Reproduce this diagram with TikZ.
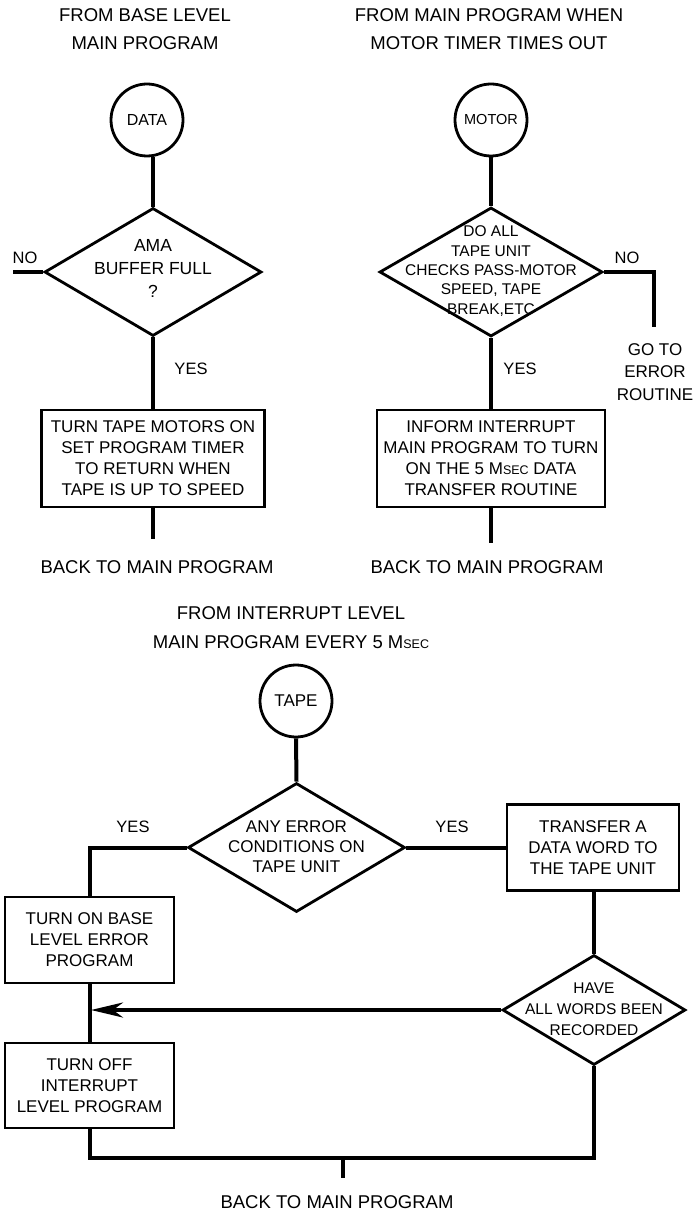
\documentclass[tikz,border=0pt]{standalone}
\usepackage{fontspec}
\setmainfont{Liberation Sans}
\usetikzlibrary{shapes.geometric,arrows.meta}
\newcommand\fHead{\fontsize{18.5}{28.5}\selectfont}
\newcommand\fLab{\fontsize{16.5}{18}\selectfont}
\newcommand\fBox{\fontsize{17}{21}\selectfont}
\newcommand\smallsec{{\fontsize{12.5}{12.5}\selectfont SEC}}
\begin{document}
\begin{tikzpicture}[x=1pt,y=-1pt,
  conn/.style={line width=4pt},
  shp/.style={draw, line width=2.8pt},
  circ/.style={shp, circle, minimum size=72pt, inner sep=0pt},
  dia/.style={shp, diamond, inner sep=0pt},
  box/.style={shp, rectangle, align=center, inner sep=2pt, font=\fBox},
  lbl/.style={inner sep=0pt, align=center},
  arr/.style={conn, -{Stealth[length=32pt,width=15pt,inset=10pt]}}
]
\fill[white] (0,0) rectangle (699,1214);
\useasboundingbox (0,0) rectangle (699,1214);

% ---------- Panel 1 ----------
\node[lbl, font=\fHead] (h1) at (145,29) {FROM BASE LEVEL\\MAIN PROGRAM};
\node[circ, font=\fontsize{16}{16}\selectfont] (data) at (147,120) {DATA};
\node[dia, minimum width=217pt, minimum height=128pt] (d1) at (153,272) {};
\node[lbl, font=\fontsize{17.5}{23}\selectfont] (d1t) at (153,268) {AMA\\BUFFER FULL\\?};
\coordinate (no1) at (13,272);
\node[lbl, font=\fLab] (nol1) at (25,258) {NO};
\node[lbl, font=\fLab] (y1) at (191,369) {YES};
\node[box, minimum width=223pt, minimum height=97pt] (b1) at (153,458.5)
  {TURN TAPE MOTORS ON\\SET PROGRAM TIMER\\TO RETURN WHEN\\TAPE IS UP TO SPEED};
\coordinate (e1) at (153,539);
\node[lbl, font=\fHead] (back1) at (157,567) {BACK TO MAIN PROGRAM};

\draw[conn] (data.south -| d1.north) -- (d1.north);
\draw[conn] (d1.west) -- (no1);
\draw[conn] (d1.south) -- (b1.north);
\draw[conn] (b1.south) -- (e1);

% ---------- Panel 2 ----------
\node[lbl, font=\fHead] (h2) at (489,29) {FROM MAIN PROGRAM WHEN\\MOTOR TIMER TIMES OUT};
\node[circ, font=\fontsize{14.5}{14.5}\selectfont] (motor) at (491,120) {MOTOR};
\node[dia, minimum width=223pt, minimum height=129pt] (d2) at (491,272) {};
\node[lbl, font=\fontsize{15.5}{19.3}\selectfont] (d2t) at (491,271)
  {DO ALL\\TAPE UNIT\\CHECKS PASS-MOTOR\\SPEED, TAPE\\BREAK,ETC};
\coordinate (no2a) at (654,272);
\coordinate (no2b) at (654,327);
\node[lbl, font=\fLab] (nol2) at (627,258) {NO};
\node[lbl, font=\fontsize{17}{22.5}\selectfont] (err) at (655,372) {GO TO\\ERROR\\ROUTINE};
\node[lbl, font=\fLab] (y2) at (520,369) {YES};
\node[box, minimum width=228pt, minimum height=97pt] (b2) at (491,458.5)
  {INFORM INTERRUPT\\MAIN PROGRAM TO TURN\\ON THE 5 M\smallsec{} DATA\\TRANSFER ROUTINE};
\coordinate (e2) at (491,543);
\node[lbl, font=\fHead] (back2) at (487,567) {BACK TO MAIN PROGRAM};

\draw[conn] (motor.south) -- (d2.north);
\draw[conn] (d2.east) -- (no2a) -- (no2b);
\draw[conn] (d2.south) -- (b2.north);
\draw[conn] (b2.south) -- (e2);

% ---------- Panel 3 ----------
\node[lbl, font=\fHead] (h3) at (291,627.5) {FROM INTERRUPT LEVEL\\MAIN PROGRAM EVERY 5 M\smallsec};
\node[circ, font=\fontsize{17}{17}\selectfont] (tape) at (296,701) {TAPE};
\node[dia, minimum width=217pt, minimum height=129pt] (d3) at (296.5,847.5) {};
\node[lbl, font=\fontsize{17}{20}\selectfont] (d3t) at (296.5,847) {ANY ERROR\\CONDITIONS ON\\TAPE UNIT};
\node[lbl, font=\fLab] (y3l) at (133,827) {YES};
\node[lbl, font=\fLab] (y3r) at (452,827) {YES};
\node[box, minimum width=172pt, minimum height=86pt] (bR) at (593,847.5)
  {TRANSFER A\\DATA WORD TO\\THE TAPE UNIT};
\node[box, minimum width=169pt, minimum height=86pt] (bL1) at (89.5,940)
  {TURN ON BASE\\LEVEL ERROR\\PROGRAM};
\node[box, minimum width=169pt, minimum height=85pt] (bL2) at (89.5,1085.5)
  {TURN OFF\\INTERRUPT\\LEVEL PROGRAM};
\node[dia, minimum width=183pt, minimum height=110pt] (d4) at (594,1010) {};
\node[lbl, font=\fontsize{15.5}{21}\selectfont] (d4t) at (594,1009) {HAVE\\ALL WORDS BEEN\\RECORDED};
\coordinate (jl) at (91,1010);
\coordinate (bot) at (343,1158);
\coordinate (out3) at (343,1178);
\node[lbl, font=\fHead] (back3) at (337,1202) {BACK TO MAIN PROGRAM};

\draw[conn] (tape.south) -- (d3.north);
\draw[conn] (d3.west) -| (bL1.north);
\draw[conn] (d3.east) -- (bR.west);
\draw[conn] (bR.south -| d4.north) -- (d4.north);
\draw[conn] (bL1.south) -- (bL2.north);
\draw[arr] (d4.west) -- (jl);
\draw[conn] (bL2.south) |- (bot) -| (d4.south);
\draw[conn] (bot) -- (out3);
\end{tikzpicture}
\end{document}
